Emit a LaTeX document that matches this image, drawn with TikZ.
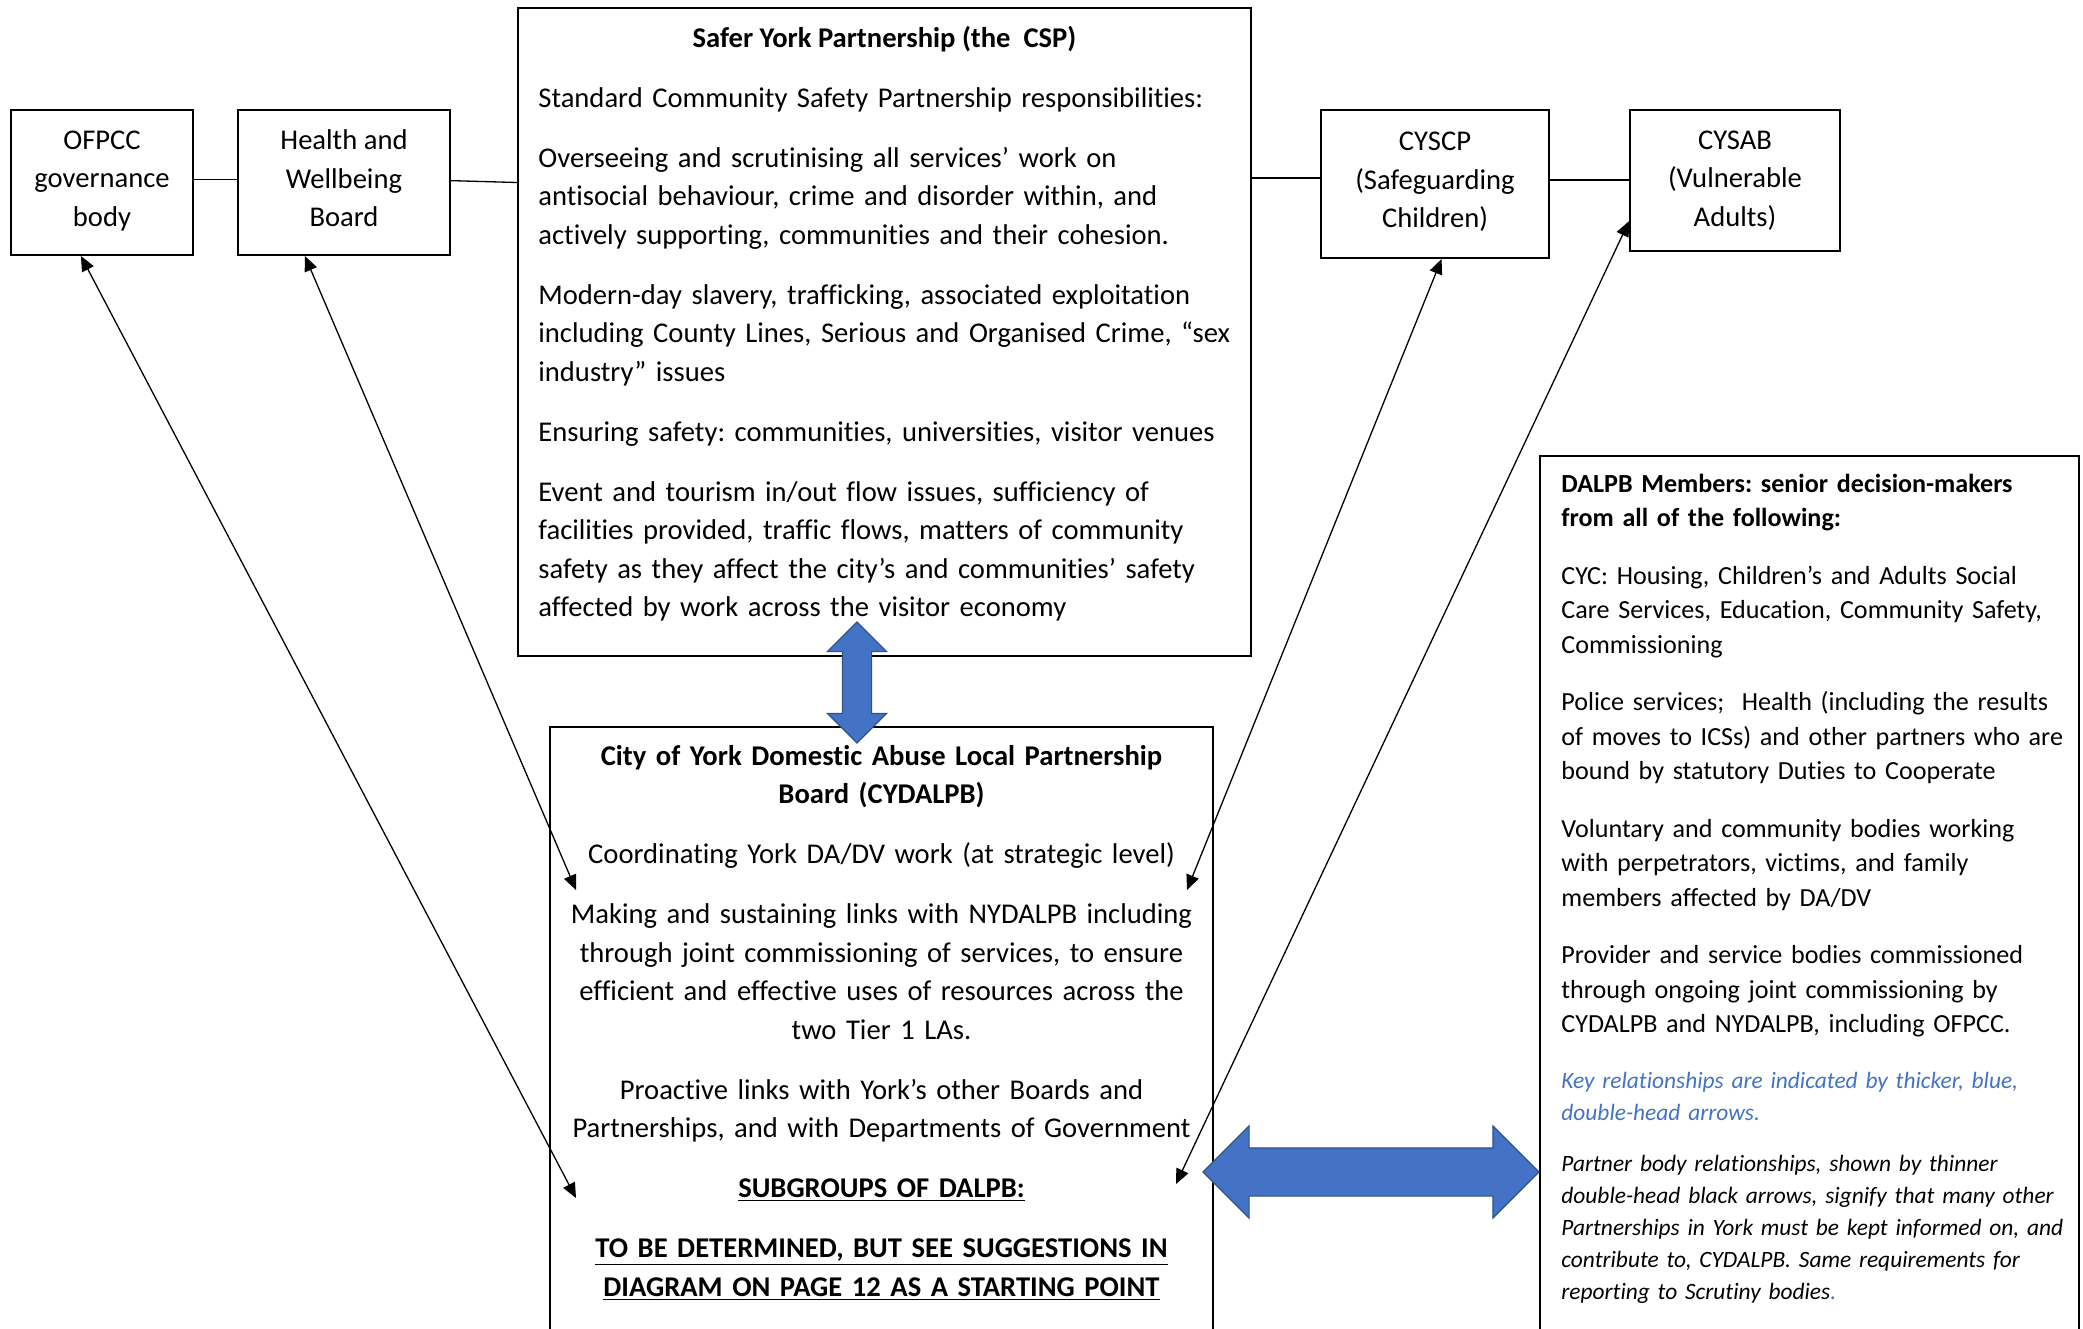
\documentclass[tikz,border=0pt]{standalone}
\usepackage{fontspec}
\setmainfont{Carlito}[Ligatures=NoCommon]
\usepackage{xcolor}
\usetikzlibrary{arrows.meta,shapes.arrows}

\definecolor{KeyBlue}{HTML}{4472C4}
\definecolor{KeyEdge}{HTML}{2F528F}
\frenchspacing

\begin{document}
\begin{tikzpicture}[x=0.5pt, y=-0.5pt,
    board/.style={draw, line width=1pt, inner sep=0pt},
    small/.style={board, align=center, font=\fontsize{14.3pt}{19.25pt}\selectfont,
      execute at begin node={\rule{0pt}{11pt}}, execute at end node={\rule[-#1]{0pt}{#1}}},
    small/.default=4pt,
    body/.style={inner sep=0pt, font=\fontsize{14.3pt}{19.25pt}\selectfont},
    members/.style={inner sep=0pt, align=left, text width=275pt, font=\fontsize{13.05pt}{17.25pt}\selectfont},
    note/.style={inner sep=0pt, align=left, text width=275pt, font=\fontsize{11.7pt}{16pt}\selectfont\itshape},
    tie/.style={line width=0.65pt},
    link/.style={line width=0.65pt, {Triangle[length=7.5pt,width=6.5pt]}-{Triangle[length=7.5pt,width=6.5pt]}},
    keyarrow/.style 2 args={double arrow, fill=KeyBlue, draw=KeyEdge, line width=0.6pt,
      inner xsep=0pt, inner ysep=#1, double arrow head extend=#2}]
\useasboundingbox (0,0) rectangle (2083,1328);

% boxes along the top
\node[small, minimum width=91pt, minimum height=72.5pt] (ofpcc) at (102,182.5) {OFPCC\\governance\\body};
\node[small, minimum width=106pt, minimum height=72.5pt] (hwb) at (344,182.5) {Health and\\Wellbeing\\Board};
\node[small, minimum width=114pt, minimum height=74pt] (cyscp) at (1435,184) {CYSCP\\(Safeguarding\\Children)};
\node[small=1pt, minimum width=105pt, minimum height=70.5pt] (cysab) at (1735,180.5) {CYSAB\\(Vulnerable\\Adults)};

% Safer York Partnership
\node[board, minimum width=366.5pt, minimum height=324pt] (csp) at (884.5,332) {};
\node[body, font=\fontsize{14.3pt}{19.25pt}\selectfont\bfseries, anchor=base] (csptitle) at (884.5,47) {Safer York Partnership (the\ \ CSP)};
\node[body, align=left, text width=360pt, anchor=base west] (csptext) at (538,107) {%
Standard Community Safety Partnership responsibilities:\\[10.75pt]
Overseeing and scrutinising all services’ work on\\antisocial behaviour, crime and disorder within, and\\actively supporting, communities and their cohesion.\\[10.75pt]
Modern-day slavery, trafficking, associated exploitation\\including County Lines, Serious and Organised Crime, “sex\\industry” issues\\[10.75pt]
Ensuring safety: communities, universities, visitor venues\\[10.75pt]
Event and tourism in/out flow issues, sufficiency of\\facilities provided, traffic flows, matters of community\\safety as they affect the city’s and communities’ safety\\affected by work across the visitor economy};

% the local partnership board
\node[board, minimum width=331.5pt, minimum height=311.5pt] (dalpb) at (881.5,1038.5) {};
\node[body, align=center, text width=340pt, anchor=base] (dalpbtext) at (881.5,765) {%
\textbf{City of York Domestic Abuse Local Partnership\\Board (CYDALPB)}\\[10.75pt]
Coordinating York DA/DV work (at strategic level)\\[10.75pt]
Making and sustaining links with NYDALPB including\\through joint commissioning of services, to ensure\\efficient and effective uses of resources across the\\two Tier 1 LAs.\\[10.75pt]
Proactive links with York’s other Boards and\\Partnerships, and with Departments of Government\\[10.75pt]
\textbf{\underline{SUBGROUPS OF DALPB:}}\\[10.75pt]
\textbf{\underline{TO BE DETERMINED, BUT SEE SUGGESTIONS IN}}\\
\textbf{\underline{DIAGRAM ON PAGE 12 AS A STARTING POINT}}};

% members
\node[board, minimum width=269.5pt, minimum height=447pt] (members) at (1809.5,903) {};
\node[members, anchor=base west] (membertext) at (1561,492) {%
\textbf{DALPB Members: senior decision-makers\\from all of the following:}\\[11.5pt]
CYC: Housing, Children’s and Adults Social\\Care Services, Education, Community Safety,\\Commissioning\\[11.5pt]
Police services;\ \ Health (including the results\\of moves to ICSs) and other partners who are\\bound by statutory Duties to Cooperate\\[11.5pt]
Voluntary and community bodies working\\with perpetrators, victims, and family\\members affected by DA/DV\\[11.5pt]
Provider and service bodies commissioned\\through ongoing joint commissioning by\\CYDALPB and NYDALPB, including OFPCC.};
\node[note, text=KeyBlue, anchor=base west] (keynote) at (1561,1088) {Key relationships are indicated by thicker, blue,\\double-head arrows.};
\node[note, anchor=base west] (partnernote) at (1561,1171) {Partner body relationships, shown by thinner\\double-head black arrows, signify that many other\\Partnerships in York must be kept informed on, and\\contribute to, CYDALPB. Same requirements for\\reporting to Scrutiny bodies\textcolor{KeyBlue}{.}};

% plain ties between the top boxes
\draw[tie] (ofpcc.2.2) -- (ofpcc.2.2 -| hwb.west);
\draw[tie] (hwb.1.9) -- (hwb.east -| csp.west);
\draw[tie] (csp.east |- cyscp.177.3) -- (cyscp.177.3);
\draw[tie] (cyscp.2.7) -- (cyscp.2.7 -| cysab.west);

% partner arrows
\coordinate (ofpccend) at (576,1198);
\coordinate (hwbend) at (576,890);
\coordinate (cyscpend) at (1187,890);
\coordinate (cysabend) at (1176,1184);
\draw[link] (ofpcc.254.8) -- (ofpccend);
\draw[link] (hwb.242.3) -- (hwbend);
\draw[link] (cyscp.275.4) -- (cyscpend);
\draw[link] (cysab.201.9) -- (cysabend);

% key arrows
\node[keyarrow={7pt}{7.5pt}, rotate=90, minimum height=60.5pt] (cspdalpb) at (857,682.5) {};
\node[keyarrow={11.75pt}{11pt}, minimum height=168pt] (dalpbmembers) at (1371,1172) {};
\end{tikzpicture}
\end{document}
